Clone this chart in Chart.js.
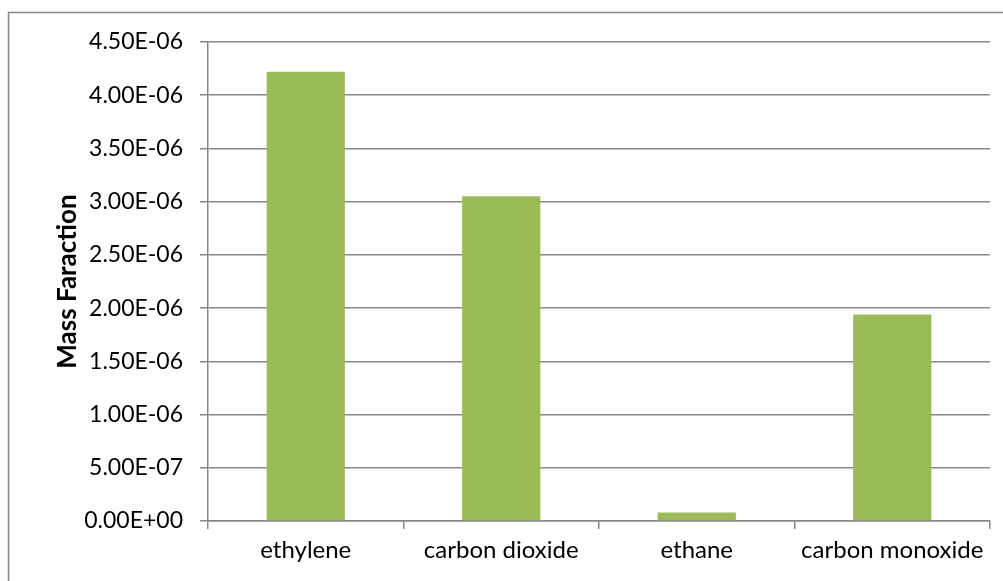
<!DOCTYPE html>
<html>
<head>
<meta charset="utf-8">
<script src="https://cdn.jsdelivr.net/npm/chart.js@4/dist/chart.umd.min.js"></script>
<style>
  html, body { margin: 0; padding: 0; background: #ffffff; }
  #wrap { position: relative; width: 1003px; height: 581px; }
</style>
</head>
<body>
<div id="wrap"><canvas id="chart" width="1003" height="581"></canvas></div>
<script>
// Gas species and their mass fractions
const categories = ['ethylene', 'carbon dioxide', 'ethane', 'carbon monoxide'];
const massFraction = [4.22e-6, 3.05e-6, 8.0e-8, 1.94e-6];
const yTickValues = [0, 5e-7, 1e-6, 1.5e-6, 2e-6, 2.5e-6, 3e-6, 3.5e-6, 4e-6, 4.5e-6];
const yAxisTitle = 'Mass Faraction';

const FONT = 'Lato, "Open Sans", sans-serif';
const GRID = '#878787';

// Scientific notation with a two-digit exponent, e.g. 4.50E-06
function sci(v) {
  if (Math.abs(v) < 1e-15) return '0.00E+00';
  const [m, e] = v.toExponential(2).split('e');
  const n = parseInt(e, 10);
  const sign = n < 0 ? '-' : '+';
  const digits = String(Math.abs(n)).padStart(2, '0');
  return m + 'E' + sign + digits;
}

// Outer frame of the chart object
const framePlugin = {
  id: 'frame',
  beforeDraw(chart) {
    const ctx = chart.ctx;
    ctx.save();
    ctx.fillStyle = '#ffffff';
    ctx.fillRect(0, 0, chart.width, chart.height);
    ctx.strokeStyle = GRID;
    ctx.lineWidth = 1.5;
    ctx.beginPath();
    ctx.moveTo(8.5, chart.height + 5);
    ctx.lineTo(8.5, 12.5);
    ctx.lineTo(chart.width + 5, 12.5);
    ctx.stroke();
    ctx.restore();
  }
};

new Chart(document.getElementById('chart'), {
  type: 'bar',
  data: {
    labels: categories,
    datasets: [{
      data: massFraction,
      backgroundColor: '#9BBB59',
      borderWidth: 0,
      barPercentage: 1.0,
      categoryPercentage: 0.4
    }]
  },
  options: {
    responsive: false,
    animation: false,
    events: [],
    layout: { padding: { left: 0, right: 13, top: 42, bottom: 0 } },
    plugins: {
      legend: { display: false },
      tooltip: { enabled: false }
    },
    scales: {
      x: {
        grid: {
          display: true,
          drawOnChartArea: false,
          drawTicks: true,
          tickLength: 8,
          color: GRID,
          lineWidth: 1.5,
          offset: true
        },
        border: { display: true, color: GRID, width: 1.5 },
        ticks: {
          color: '#000000',
          font: { family: FONT, size: 24 },
          padding: 7,
          maxRotation: 0,
          autoSkip: false
        },
        afterFit(scale) { scale.height = 60; }
      },
      y: {
        min: 0,
        max: 4.5e-6,
        afterBuildTicks(scale) {
          scale.ticks = yTickValues.map(v => ({ value: v }));
        },
        grid: {
          color: GRID,
          lineWidth: 1.5,
          tickLength: 8,
          drawTicks: true
        },
        border: { display: true, color: GRID, width: 1.5 },
        ticks: {
          color: '#000000',
          font: { family: FONT, size: 23 },
          padding: 17,
          callback: (v) => sci(v)
        },
        title: {
          display: true,
          text: yAxisTitle,
          color: '#000000',
          font: { family: FONT, size: 26, weight: 'bold' },
          padding: { top: 52, bottom: 0 }
        },
        afterFit(scale) { scale.width = 208; }
      }
    }
  },
  plugins: [framePlugin]
});
</script>
</body>
</html>
